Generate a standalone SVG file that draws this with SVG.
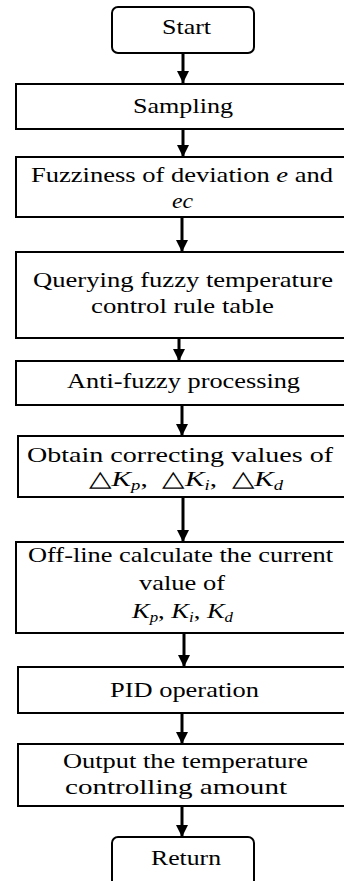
<svg xmlns="http://www.w3.org/2000/svg" width="344" height="881" viewBox="0 0 344 881">
<style>
.box{fill:#fff;stroke:#000;stroke-width:2}
.t{font-family:'Liberation Serif',Tinos,'Times New Roman',Times,serif;font-size:22px;fill:#000}
.i{font-style:italic}
.sub{font-size:14px;font-style:italic}
.c{stroke:#000;stroke-width:3;fill:none}
</style>
<defs>
<marker id="ah" markerUnits="userSpaceOnUse" markerWidth="14" markerHeight="12" refX="12" refY="6" orient="auto">
<path d="M0,0 L12,6 L0,12 Z" fill="#000"/>
</marker>
</defs>
<rect width="344" height="881" fill="#fff"/>
<g id="connectors">
<line class="c" x1="183" y1="53" x2="183" y2="83" marker-end="url(#ah)"/>
<line class="c" x1="183" y1="129" x2="183" y2="157" marker-end="url(#ah)"/>
<line class="c" x1="182" y1="217" x2="182" y2="252" marker-end="url(#ah)"/>
<line class="c" x1="179" y1="338" x2="179" y2="361" marker-end="url(#ah)"/>
<line class="c" x1="182" y1="405" x2="182" y2="436" marker-end="url(#ah)"/>
<line class="c" x1="183" y1="497" x2="183" y2="542" marker-end="url(#ah)"/>
<line class="c" x1="184" y1="633" x2="184" y2="667" marker-end="url(#ah)"/>
<line class="c" x1="182" y1="713" x2="182" y2="744" marker-end="url(#ah)"/>
<line class="c" x1="182" y1="806" x2="182" y2="837" marker-end="url(#ah)"/>
</g>
<g id="start">
<rect class="box" x="112" y="7" width="142" height="46" rx="6"/>
<text class="t" x="162" y="34" textLength="49" lengthAdjust="spacingAndGlyphs">Start</text>
</g>
<g id="sampling">
<rect class="box" x="16" y="84" width="340" height="45"/>
<text class="t" x="133" y="113" textLength="100" lengthAdjust="spacingAndGlyphs">Sampling</text>
</g>
<g id="fuzziness">
<rect class="box" x="16" y="157" width="340" height="60"/>
<text class="t" x="31" y="182" textLength="302" lengthAdjust="spacingAndGlyphs">Fuzziness of deviation <tspan class="i">e</tspan> and</text>
<text class="t i" x="172" y="208" textLength="21" lengthAdjust="spacingAndGlyphs">ec</text>
</g>
<g id="querying">
<rect class="box" x="16" y="252" width="340" height="86"/>
<text class="t" x="33" y="287" textLength="300" lengthAdjust="spacingAndGlyphs">Querying fuzzy temperature</text>
<text class="t" x="91" y="313" textLength="183" lengthAdjust="spacingAndGlyphs">control rule table</text>
</g>
<g id="antifuzzy">
<rect class="box" x="16" y="361" width="340" height="44"/>
<text class="t" x="67" y="388" textLength="233" lengthAdjust="spacingAndGlyphs">Anti-fuzzy processing</text>
</g>
<g id="obtain">
<rect class="box" x="18" y="436" width="340" height="61"/>
<text class="t" x="27" y="462" textLength="306" lengthAdjust="spacingAndGlyphs">Obtain correcting values of</text>
<text class="t" x="89" y="486" textLength="194" lengthAdjust="spacingAndGlyphs">△<tspan class="i">K</tspan><tspan class="sub" dy="4">p</tspan><tspan dy="-4">,&#160;&#160;△</tspan><tspan class="i">K</tspan><tspan class="sub" dy="4">i</tspan><tspan dy="-4">,&#160;&#160;△</tspan><tspan class="i">K</tspan><tspan class="sub" dy="4">d</tspan></text>
</g>
<g id="offline">
<rect class="box" x="16" y="542" width="340" height="91"/>
<text class="t" x="28" y="562" textLength="305" lengthAdjust="spacingAndGlyphs">Off-line calculate the current</text>
<text class="t" x="139" y="590" textLength="86" lengthAdjust="spacingAndGlyphs">value of</text>
<text class="t" x="132" y="618" textLength="101" lengthAdjust="spacingAndGlyphs"><tspan class="i">K</tspan><tspan class="sub" dy="4">p</tspan><tspan dy="-4">, </tspan><tspan class="i">K</tspan><tspan class="sub" dy="4">i</tspan><tspan dy="-4">, </tspan><tspan class="i">K</tspan><tspan class="sub" dy="4">d</tspan></text>
</g>
<g id="pid">
<rect class="box" x="18" y="667" width="340" height="46"/>
<text class="t" x="110" y="697" textLength="149" lengthAdjust="spacingAndGlyphs">PID operation</text>
</g>
<g id="output">
<rect class="box" x="18" y="744" width="340" height="62"/>
<text class="t" x="63" y="768" textLength="245" lengthAdjust="spacingAndGlyphs">Output the temperature</text>
<text class="t" x="65" y="794" textLength="222" lengthAdjust="spacingAndGlyphs">controlling amount</text>
</g>
<g id="return">
<rect class="box" x="112" y="837" width="142" height="50" rx="6"/>
<text class="t" x="151" y="865" textLength="70" lengthAdjust="spacingAndGlyphs">Return</text>
</g>
</svg>
